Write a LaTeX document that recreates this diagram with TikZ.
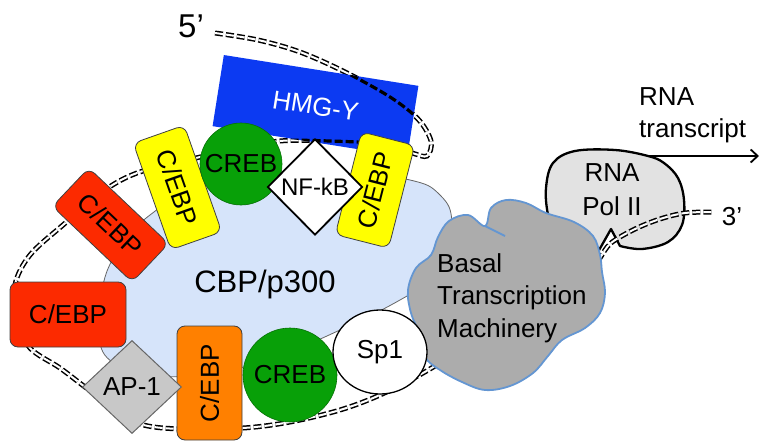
\documentclass[tikz,border=0pt]{standalone}
\usepackage{fontspec}
\setmainfont{Liberation Sans}
\usetikzlibrary{shapes.geometric,arrows.meta}
\definecolor{hmgblue}{RGB}{12,58,242}
\definecolor{cebpred}{RGB}{252,42,0}
\definecolor{cebpyel}{RGB}{255,255,0}
\definecolor{cebporange}{RGB}{255,128,0}
\definecolor{crebgreen}{RGB}{8,160,8}
\definecolor{cbpblue}{RGB}{214,228,250}
\definecolor{ap1gray}{RGB}{200,200,200}
\definecolor{cloudgray}{RGB}{172,172,172}
\definecolor{cloudblue}{RGB}{100,150,210}
\definecolor{polgray}{RGB}{226,226,226}
\newcommand{\lblfont}{\fontsize{26}{32.5}\selectfont}
\newcommand{\nffont}{\fontsize{24}{28}\selectfont}
\newcommand{\bigfont}{\fontsize{31}{36}\selectfont}
\newcommand{\fivefont}{\fontsize{33}{38}\selectfont}
\newcommand{\polfont}{\fontsize{26}{34}\selectfont}
\newcommand{\rnafont}{\fontsize{26}{32}\selectfont}
\newcommand{\dnamain}{plot[smooth, tension=0.55] coordinates {(215,33) (258,40) (300,52) (345,72) (390,97) (418,119) (431,141) (427,156) (412,153) (380,144) (330,141) (280,141) (230,150) (180,162) (137,173) (105,190) (63,225) (30,255) (15,285) (18,320) (30,348) (60,368) (85,387) (112,407) (140,424) (180,429) (243,428) (290,422) (340,410) (380,395) (423,373) (470,345) (540,310) (590,280)}}
\begin{document}
\begin{tikzpicture}[x=1pt,y=-1pt,
  dna/.style={draw=black, line width=1.5pt, double=white, double distance=2pt, dash pattern=on 8pt off 3pt},
  dnaover/.style={draw=black, line width=3.2pt, dash pattern=on 8pt off 3pt},
  tfbox/.style={draw=black!75, line width=0.8pt, rounded corners=8pt, inner sep=0pt, font=\lblfont},
  crebstyle/.style={circle, fill=crebgreen, draw=crebgreen!70!black, line width=0.6pt, inner sep=0pt, font=\lblfont},
  txarrow/.style={draw=black, line width=1.8pt, -{Straight Barb[length=7pt,width=13pt]}}]
\useasboundingbox (0,0) rectangle (760,441);

% DNA (behind)
\draw[dna] \dnamain;

% CBP/p300 blob
\draw[fill=cbpblue, draw=black!60, line width=0.8pt] plot[smooth cycle, tension=0.8] coordinates {(100,300) (115,255) (150,215) (200,190) (280,178) (360,176) (410,180) (440,195) (452,222) (445,255) (425,282) (400,300) (340,330) (280,355) (220,372) (160,376) (115,364) (98,335)};

% HMG-Y
\node[fill=hmgblue, rotate=-9, minimum width=197pt, minimum height=72pt, inner sep=0pt, text=white, font=\lblfont] (hmg) at (315.5,106) {HMG-Y};
\begin{scope}
  \clip (hmg.north west) -- (hmg.north east) -- (hmg.south east) -- (hmg.south west) -- cycle;
  \draw[dnaover] \dnamain;
\end{scope}

% upper factors
\node[tfbox, fill=cebpred, rotate=-43.5, minimum width=110pt, minimum height=53pt] (cebpa) at (110.5,225) {C/EBP};
\node[tfbox, fill=cebpyel, rotate=-70.6, minimum width=113pt, minimum height=54pt] (cebpb) at (177.5,187.5) {C/EBP};
\node[tfbox, fill=cebpyel, rotate=75.7, minimum width=106pt, minimum height=55pt] (cebpc) at (375,190) {C/EBP};
\node[crebstyle, minimum size=82pt] (creba) at (241,164) {CREB};
\node[diamond, aspect=1, draw=black, line width=1.8pt, fill=white, minimum width=95pt, minimum height=96pt, inner sep=0pt, font=\nffont] (nfkb) at (315,187) {NF-kB};

% lower factors
\node[tfbox, fill=cebpred, minimum width=116pt, minimum height=65pt] (cebpd) at (68,314.5) {C/EBP};
\node[tfbox, fill=cebporange, rotate=90, minimum width=114pt, minimum height=65pt] (cebpe) at (209.5,383) {C/EBP};
\node[diamond, aspect=1.06, fill=ap1gray, draw=black!60, line width=1pt, minimum width=99pt, minimum height=93pt, inner sep=0pt, font=\lblfont] (ap1) at (132,387) {AP-1};
\node[crebstyle, minimum size=94pt] (crebb) at (290,375) {CREB};

% RNA Pol II
\draw[fill=polgray, draw=black, line width=2.3pt, line join=round] (598,252) -- (611,229) -- plot[smooth, tension=0.6] coordinates {(620,246) (642,249) (668,242) (682,225) (684,200) (678,178) (664,163) (648,156) (615,150) (575,151) (553,163) (546,188) (548,215) (556,242)} -- cycle;
\coordinate (txs) at (648,156);
\coordinate (txe) at (759,156);
\draw[txarrow] (txs) -- (txe);

% DNA tail over Pol II
\draw[dna] plot[smooth, tension=0.55] coordinates {(560,300) (590,273) (600,258) (611,243) (635,229) (660,219) (685,213) (712,212)};

% Basal transcription machinery cloud
\draw[fill=cloudgray, draw=cloudblue, line width=1.8pt] plot[smooth cycle, tension=0.6] coordinates {(438,237) (449,221) (468,215) (485,226) (491,208) (506,200) (526,203) (546,213) (574,222) (593,236) (600,255) (602,272) (605,293) (600,313) (585,328) (562,340) (548,356) (533,373) (510,386) (485,390) (462,382) (440,370) (425,357) (420,335) (411,313) (408,290) (416,268) (431,255)};
\draw[draw=cloudblue, line width=1.8pt] (485,226) -- (505,236);

% Sp1
\node[ellipse, draw=black, line width=1.3pt, fill=white, minimum width=94pt, minimum height=84pt, inner sep=0pt, font=\lblfont] (sp1) at (380,352) {Sp1};

% texts
\node[font=\bigfont, inner sep=0pt] (cbptext) at (265,284) {CBP/p300};
\node[font=\lblfont, align=left, anchor=west, inner sep=0pt] (basal) at (437,298) {Basal\\Transcription\\Machinery};
\node[font=\polfont, align=center, inner sep=0pt] (poltext) at (612,190) {RNA\\Pol II};
\node[font=\rnafont, align=left, anchor=west, inner sep=0pt] (rnatext) at (639,115) {RNA\\transcript};
\node[font=\lblfont, inner sep=0pt] (three) at (732,217) {3’};
\node[font=\fivefont, inner sep=0pt] (five) at (191,26) {5’};
\end{tikzpicture}
\end{document}
